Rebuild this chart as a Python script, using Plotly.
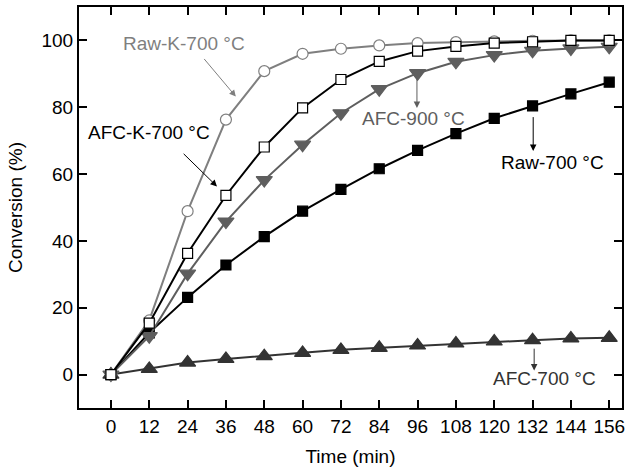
import plotly.graph_objects as go

# Sampling times (min)
time_min = [0, 12, 24, 36, 48, 60, 72, 84, 96, 108, 120, 132, 144, 156]

# Conversion (%) for each sample
raw_k_700 = [0, 16.2, 48.9, 76.3, 90.8, 96.0, 97.5, 98.5, 99.2, 99.5, 99.7, 99.9, 100.0, 100.0]
afc_k_700 = [0, 15.4, 36.3, 53.6, 68.1, 79.8, 88.3, 93.7, 96.8, 98.2, 99.2, 99.6, 100.0, 100.0]
afc_900 = [0, 11.5, 30.2, 45.8, 58.2, 68.8, 78.2, 85.4, 90.2, 93.6, 95.6, 96.9, 97.6, 98.1]
raw_700 = [0, 12.5, 23.1, 32.8, 41.3, 48.9, 55.4, 61.6, 67.1, 72.1, 76.7, 80.4, 84.0, 87.5]
afc_700 = [0, 1.7, 3.6, 4.7, 5.5, 6.5, 7.4, 8.0, 8.7, 9.3, 9.9, 10.3, 10.8, 11.0]

x_ticks = [0, 12, 24, 36, 48, 60, 72, 84, 96, 108, 120, 132, 144, 156]
y_ticks = [0, 20, 40, 60, 80, 100]

FONT = "Liberation Sans, Arial, sans-serif"
FS = 19
GRAY_LIGHT = "#7f7f7f"
GRAY_MID = "#5e5e5e"
GRAY_DARK = "#333333"

fig = go.Figure()

def add_series(y, line_color, symbol, fill, edge, size):
    fig.add_trace(go.Scatter(
        x=time_min, y=y, mode="lines+markers",
        line=dict(color=line_color, width=2),
        marker=dict(symbol=symbol, size=size, color=fill,
                    line=dict(color=edge, width=1.2)),
        showlegend=False,
    ))

add_series(afc_700, GRAY_DARK, "triangle-up", GRAY_DARK, GRAY_DARK, 14)
add_series(raw_700, "#000000", "square", "#000000", "#000000", 10)
add_series(afc_900, GRAY_MID, "triangle-down", GRAY_MID, GRAY_MID, 14)
add_series(raw_k_700, GRAY_LIGHT, "circle", "#ffffff", GRAY_LIGHT, 11)
add_series(afc_k_700, "#000000", "square", "#ffffff", "#000000", 10)

# Series labels
labels = [
    ("Raw-K-700 °C", 22.9, 99.2, GRAY_LIGHT),
    ("AFC-K-700 °C", 11.8, 72.5, "#000000"),
    ("AFC-900 °C", 94.8, 76.6, GRAY_MID),
    ("Raw-700 °C", 138.2, 63.4, "#000000"),
    ("AFC-700 °C", 135.6, -1.3, GRAY_DARK),
]
for text, lx, ly, col in labels:
    fig.add_annotation(x=lx, y=ly, text=text, showarrow=False,
                       font=dict(family=FONT, size=FS, color=col),
                       xanchor="center", yanchor="middle")

# Pointer arrows: (tail x, tail y, head x, head y, colour)
arrows = [
    (28.8, 94.9, 39.1, 83.2, GRAY_LIGHT),
    (22.3, 66.5, 33.2, 56.3, "#000000"),
    (95.8, 89.0, 95.8, 79.8, GRAY_MID),
    (132.2, 77.5, 132.2, 66.9, "#000000"),
    (132.5, 8.2, 132.5, 1.2, GRAY_DARK),
]
for tx, ty, hx, hy, col in arrows:
    fig.add_annotation(x=hx, y=hy, ax=tx, ay=ty, axref="x", ayref="y",
                       text="", showarrow=True, arrowhead=2, arrowsize=1.3,
                       arrowwidth=1, arrowcolor=col, standoff=0)

axis_common = dict(
    showline=True, linecolor="#000000", linewidth=2, mirror="ticks",
    ticks="inside", ticklen=8, tickwidth=1.5, tickcolor="#000000",
    showgrid=False, zeroline=False,
    tickfont=dict(family=FONT, size=FS, color="#000000"),
)

fig.update_xaxes(range=[-10, 160], tickmode="array", tickvals=x_ticks,
                 title=dict(text="Time (min)", font=dict(family=FONT, size=FS, color="#000000"),
                            standoff=14),
                 **axis_common)
fig.update_yaxes(range=[-10, 110], tickmode="array", tickvals=y_ticks,
                 title=dict(text="Conversion (%)", font=dict(family=FONT, size=FS, color="#000000"),
                            standoff=14),
                 **axis_common)

fig.update_layout(
    width=630, height=473,
    margin=dict(l=79, r=5, t=7, b=65),
    plot_bgcolor="#ffffff", paper_bgcolor="#ffffff",
    font=dict(family=FONT, size=FS, color="#000000"),
)

fig.write_html("out.html")
